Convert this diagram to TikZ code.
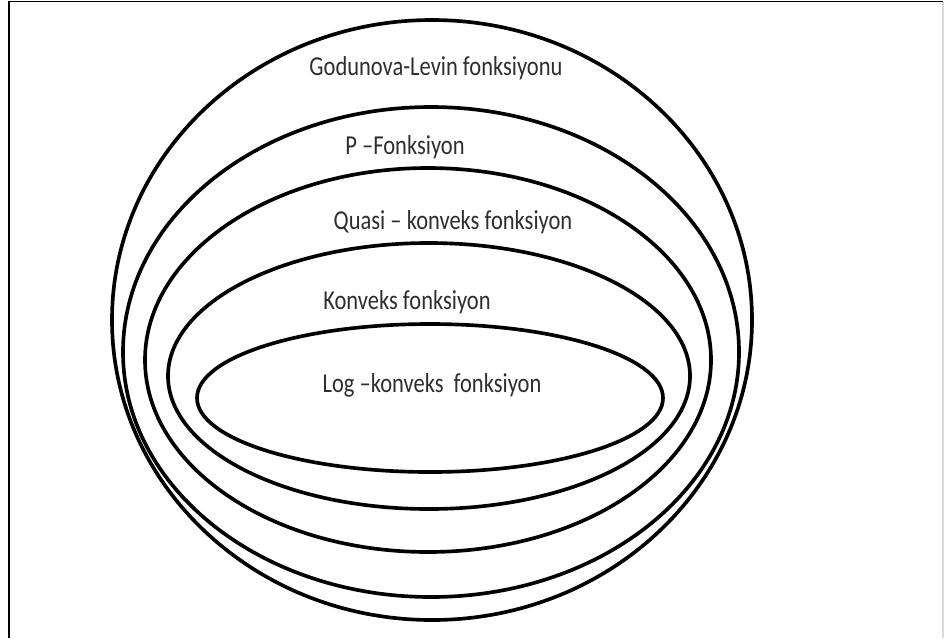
\documentclass[tikz,border=0pt]{standalone}
\usepackage{fontspec}
\setmainfont{Carlito}
\usepackage{tikz}

\newcommand{\tallText}[1]{\scalebox{0.97}[1.18]{#1}}

\begin{document}
\begin{tikzpicture}[x=0.25mm, y=-0.25mm,
						setline/.style={line width=2.6pt, black},
						setlabel/.style={font=\fontsize{16.5}{18}\selectfont, text=black!82, inner sep=0pt}
						]
						\useasboundingbox (0,0) rectangle (944,638);
						
						% Marco
						\draw[line width=1.4pt] (9,638) -- (9,1.5) -- (943,1.5);
						\draw[line width=1pt, black!15] (943,1.5) -- (943,638);
						
						% Conjuntos anidados
						\draw[setline] (432,320) ellipse [x radius=320, y radius=300];
						\draw[setline] (431,352) ellipse [x radius=308, y radius=245];
						\draw[setline] (428,360) ellipse [x radius=283, y radius=192];
						\draw[setline] (429,376) ellipse [x radius=261, y radius=133];
						\draw[setline] (430,398) ellipse [x radius=233, y radius=74];
						
						% Nombres de las clases
						\node[setlabel] (godunova) at (436,68) {\tallText{Godunova-Levin fonksiyonu}};
						\node[setlabel] (pfonk) at (405,147) {\tallText{P –Fonksiyon}};
						\node[setlabel] (quasi) at (453,222) {\tallText{Quasi – konveks fonksiyon}};
						\node[setlabel] (konveks) at (407,302) {\tallText{Konveks fonksiyon}};
						\node[setlabel] (logkonveks) at (432,385) {\tallText{Log –konveks~ fonksiyon}};
						
					\end{tikzpicture}
\end{document}
